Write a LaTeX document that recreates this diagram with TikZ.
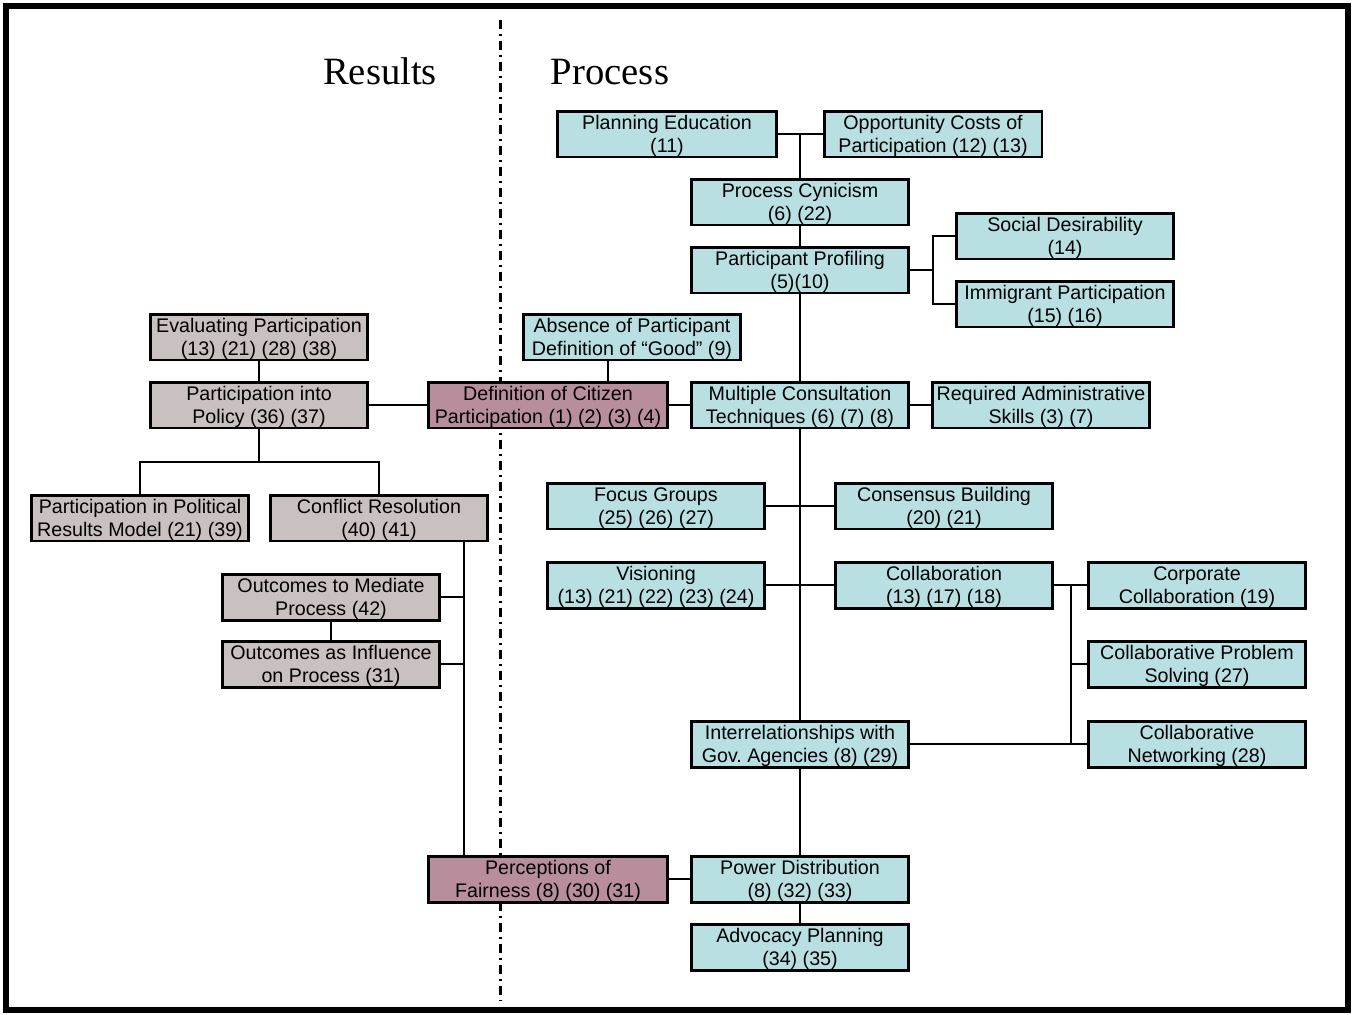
\documentclass[tikz,border=0pt]{standalone}
\usepackage{fontspec}
\newfontfamily\boxfont{Liberation Sans}
\newfontfamily\headfont{Liberation Serif}
\usepackage{xcolor}
\definecolor{procfill}{HTML}{B8E0E3}
\definecolor{resfill}{HTML}{C9C1BF}
\definecolor{deffill}{HTML}{B88E9D}

\begin{document}
\begin{tikzpicture}[x=0.02cm,y=-0.02cm]
        \tikzset{cbox/.style={draw,line width=1.7pt,minimum width=4.34cm,minimum height=0.92cm,
                inner xsep=1pt,inner ysep=0pt,align=center,font=\boxfont\fontsize{11.2}{13.1}\selectfont,
                execute at begin node={\rule{0pt}{23.7pt}}},
            proc/.style={cbox,fill=procfill},
            res/.style={cbox,fill=resfill},
            defn/.style={cbox,fill=deffill,minimum width=4.8cm},
            link/.style={draw,line width=1.4pt},
            title/.style={anchor=base,font=\headfont\fontsize{22}{26}\selectfont}}
        \useasboundingbox (0,0) rectangle (1354,1014);
        \draw[line width=0.12cm] (6,6) rectangle (1348,1010);
        \draw[line width=0.06cm,dash pattern=on 0.18cm off 0.1cm on 0.04cm off 0.1cm] (500,20) -- (500,1000);
        \node[title] (results) at (380,84) {Results};
        \node[title] (process) at (610,84) {Process};
        % process side
        \node[proc,minimum width=4.38cm] (planedu) at (667,134) {Planning Education\\(11)};
        \node[proc,minimum width=4.36cm] (oppcost) at (933,134) {Opportunity Costs of\\Participation (12) (13)};
        \node[proc] (cynic) at (800,202) {Process Cynicism\\(6) (22)};
        \node[proc] (profil) at (800,270) {Participant Profiling\\(5)(10)};
        \node[proc] (socdes) at (1065,236) {Social Desirability\\(14)};
        \node[proc] (immig) at (1065,304) {Immigrant Participation\\(15) (16)};
        \node[proc] (absence) at (632,337) {Absence of Participant\\Definition of “Good” (9)};
        \node[defn] (defcit) at (548,405) {Definition of Citizen\\Participation (1) (2) (3) (4)};
        \node[proc] (multcon) at (800,405) {Multiple Consultation\\Techniques (6) (7) (8)};
        \node[proc] (reqadm) at (1041,405) {Required Administrative\\Skills (3) (7)};
        \node[proc] (focus) at (656,506) {Focus Groups\\(25) (26) (27)};
        \node[proc] (consens) at (944,506) {Consensus Building\\(20) (21)};
        \node[proc] (vision) at (656,585) {Visioning\\(13) (21) (22) (23) (24)};
        \node[proc] (collab) at (944,585) {Collaboration\\(13) (17) (18)};
        \node[proc] (corpcol) at (1197,585) {Corporate\\Collaboration (19)};
        \node[proc] (colprob) at (1197,664) {Collaborative Problem\\Solving (27)};
        \node[proc] (colnet) at (1197,744) {Collaborative\\Networking (28)};
        \node[proc] (interrel) at (800,744) {Interrelationships with\\Gov.\ Agencies (8) (29)};
        \node[defn] (fairness) at (548,879) {Perceptions of\\Fairness (8) (30) (31)};
        \node[proc] (power) at (800,879) {Power Distribution\\(8) (32) (33)};
        \node[proc] (advocacy) at (800,947) {Advocacy Planning\\(34) (35)};
        % results side
        \node[res] (evalpart) at (259,337) {Evaluating Participation\\(13) (21) (28) (38)};
        \node[res] (policy) at (259,405) {Participation into\\Policy (36) (37)};
        \node[res] (polmodel) at (140,518) {Participation in Political\\Results Model (21) (39)};
        \node[res] (conflict) at (379,518) {Conflict Resolution\\(40) (41)};
        \node[res] (mediate) at (331,597) {Outcomes to Mediate\\Process (42)};
        \node[res] (influence) at (331,664) {Outcomes as Influence\\on Process (31)};
        % junctions
        \coordinate (ppj) at (933,270);
        \coordinate (polj) at (259,462);
        \coordinate (colj) at (1071,585);
        % connectors
        \draw[link] (planedu) -- (oppcost);
        \draw[link] (cynic) -- (cynic |- planedu);
        \draw[link] (cynic) -- (profil);
        \draw[link] (profil) -- (multcon);
        \draw[link] (profil) -- (ppj);
        \draw[link] (socdes.west) -| (ppj) |- (immig.west);
        \draw[link] ([xshift=-0.48cm]absence.south) -- ([xshift=-0.48cm]absence.south |- defcit.north);
        \draw[link] (policy) -- (defcit);
        \draw[link] (defcit) -- (multcon);
        \draw[link] (multcon) -- (reqadm);
        \draw[link] (evalpart) -- (policy);
        \draw[link] (policy) -- (polj);
        \draw[link] (polmodel.north) |- (polj) -| (conflict.north);
        \draw[link] ([xshift=1.7cm]conflict.south) coordinate (cfs) -- (cfs |- fairness.north);
        \draw[link] (mediate.east) -- (mediate.east -| cfs);
        \draw[link] (influence.east) -- (influence.east -| cfs);
        \draw[link] (mediate) -- (influence);
        \draw[link] (multcon) -- (interrel);
        \draw[link] (focus) -- (consens);
        \draw[link] (vision) -- (collab);
        \draw[link] (collab) -- (corpcol);
        \draw[link] (colj) -- (colj |- colnet.west);
        \draw[link] (colprob.west) -- (colprob.west -| colj);
        \draw[link] (interrel) -- (colnet);
        \draw[link] (interrel) -- (power);
        \draw[link] (power) -- (fairness);
        \draw[link] (power) -- (advocacy);
    \end{tikzpicture}
\end{document}
